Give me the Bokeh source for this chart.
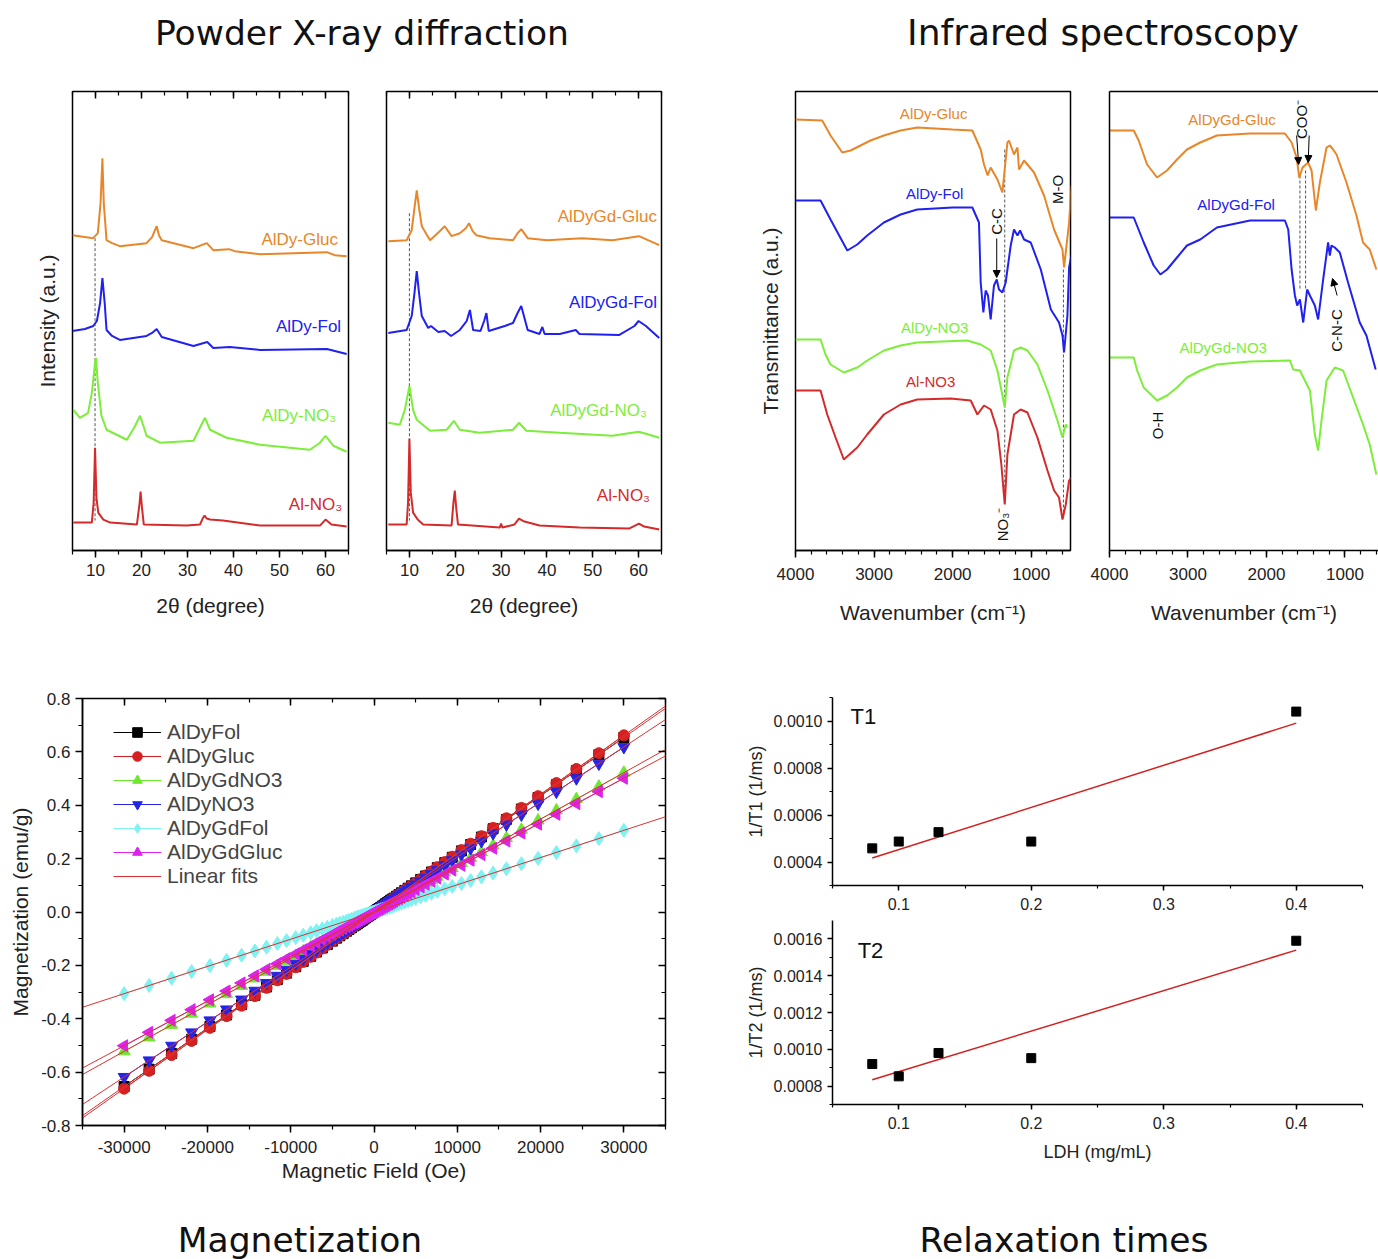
import numpy as np
from bokeh.plotting import figure
from bokeh.models import (Range1d, LinearAxis, SingleIntervalTicker, FixedTicker, PrintfTickFormatter,
                          Legend, LegendItem, Arrow, NormalHead, Div, Spacer)
from bokeh.layouts import row, column
from bokeh.embed import file_html
from bokeh.resources import INLINE
from bokeh.core.properties import value

FONT = "Liberation Sans"
TFONT = "DejaVu Sans"
ORANGE = "#E8862A"
BLUE = "#2020F0"
GREEN = "#7CEE3A"
RED = "#D42A2A"
MAGENTA = "#DD22EE"
CYAN = "#7FF2F2"
DOT = "#555555"

# ---------------- PXRD data (2theta, intensity a.u.) ----------------
xrdL_gluc_x = [5.0, 9.5, 10.5, 11.1, 11.5, 11.8, 12.4, 13.6, 15.3, 21.1, 22.3, 23.3, 23.8, 24.4, 31.3, 34.2, 35.6, 39.0, 40.3, 45.8, 60.3, 62.0, 64.6]
xrdL_gluc_y = [316, 313, 318, 348, 393, 348, 311, 308, 305, 308, 314, 325, 316, 311, 303, 308, 301, 302, 300, 297, 299, 296, 295]
xrdL_fol_x = [5.0, 7.7, 9.5, 10.3, 11.0, 11.5, 12.0, 12.4, 13.6, 15.3, 21.1, 22.3, 23.3, 24.4, 31.3, 34.3, 35.6, 39.2, 45.8, 60.3, 64.6]
xrdL_fol_y = [220, 222, 225, 230, 248, 273, 248, 221, 215, 211, 215, 218, 222, 214, 205, 209, 203, 204, 201, 202, 197]
xrdL_no3_x = [5.2, 6.6, 8.4, 9.2, 9.9, 10.1, 10.5, 11.3, 12.4, 16.8, 18.4, 19.7, 21.1, 24.0, 31.3, 32.7, 33.8, 34.9, 38.5, 45.8, 56.6, 58.8, 60.0, 61.7, 64.6]
xrdL_no3_y = [141, 133, 138, 158, 188, 193, 168, 135, 121, 111, 123, 135, 115, 108, 110, 123, 133, 121, 113, 106, 101, 108, 115, 105, 99]
xrdL_al_x = [5.2, 9.2, 9.6, 9.9, 10.2, 10.6, 11.7, 13.2, 19.0, 19.6, 19.8, 20.1, 20.5, 29.8, 32.7, 33.3, 33.7, 34.2, 34.9, 37.7, 45.8, 58.8, 60.0, 61.3, 64.6]
xrdL_al_y = [28, 28, 48, 103, 53, 38, 31, 28, 26, 48, 59, 43, 26, 25, 26, 32, 35, 32, 31, 30, 25, 25, 31, 26, 24]

xrdR_gluc_x = [5.4, 9.4, 10.5, 11.1, 11.6, 12.1, 12.7, 14.5, 16.6, 17.7, 19.2, 21.0, 22.3, 23.0, 23.8, 24.6, 27.5, 32.6, 33.6, 34.4, 35.8, 40.0, 47.7, 54.3, 60.1, 64.5]
xrdR_gluc_y = [310, 311, 321, 343, 361, 343, 325, 311, 320, 325, 315, 318, 323, 328, 320, 316, 313, 311, 318, 322, 313, 311, 313, 311, 315, 306]
xrdR_fol_x = [5.4, 9.4, 10.5, 11.1, 11.6, 12.1, 12.7, 14.1, 14.7, 16.3, 17.7, 19.1, 21.0, 22.5, 23.2, 23.9, 25.5, 26.3, 26.8, 27.3, 30.8, 32.6, 33.6, 34.4, 35.1, 35.8, 38.4, 39.0, 39.5, 42.8, 46.3, 47.1, 55.8, 59.1, 60.0, 61.6, 64.5]
xrdR_fol_y = [218, 221, 235, 258, 280, 258, 235, 223, 225, 219, 220, 215, 221, 230, 241, 221, 220, 230, 238, 220, 225, 228, 238, 245, 233, 221, 217, 224, 217, 217, 221, 217, 216, 225, 230, 225, 213]
xrdR_no3_x = [5.4, 7.9, 9.0, 10.0, 10.8, 11.6, 14.5, 18.1, 19.7, 21.0, 25.3, 32.6, 33.9, 35.5, 42.8, 54.3, 60.0, 61.6, 64.5]
xrdR_no3_y = [128, 126, 141, 165, 141, 131, 120, 121, 130, 121, 118, 121, 128, 120, 118, 115, 119, 117, 113]
xrdR_al_x = [5.4, 9.4, 9.7, 10.0, 10.3, 10.8, 11.8, 13.0, 19.2, 19.6, 19.9, 20.2, 20.6, 29.7, 30.0, 30.3, 32.9, 33.9, 35.1, 38.4, 47.1, 57.9, 60.1, 61.2, 64.5]
xrdR_al_y = [26, 26, 48, 112, 58, 38, 31, 26, 25, 48, 60, 43, 26, 23, 27, 23, 26, 32, 29, 25, 23, 22, 27, 24, 21]

xrdL_labels = ["AlDy-Gluc", "AlDy-Fol", "AlDy-NO\u2083", "Al-NO\u2083"]
xrdL_label_x = [62.7, 63.4, 62.3, 63.6]
xrdL_label_y = [312, 224, 135, 46]
xrdR_labels = ["AlDyGd-Gluc", "AlDyGd-Fol", "AlDyGd-NO\u2083", "Al-NO\u2083"]
xrdR_label_x = [64.0, 64.0, 61.8, 62.5]
xrdR_label_y = [335, 249, 140, 55]

# ---------------- IR data (wavenumber, transmittance a.u.) ----------------
irL_gluc_x = [4000, 3660, 3554, 3405, 3299, 3172, 3045, 2875, 2662, 2450, 2000, 1749, 1643, 1601, 1554, 1516, 1430, 1367, 1303, 1283, 1219, 1175, 1155, 1091, 964, 837, 709, 602, 582, 518, 488]
irL_gluc_y = [431, 430, 415, 398, 400, 405, 410, 415, 420, 423, 421, 420, 401, 386, 375, 383, 371, 358, 408, 410, 396, 403, 381, 390, 378, 355, 321, 301, 283, 328, 365]
irL_fol_x = [4000, 3681, 3554, 3341, 3214, 3087, 2875, 2662, 2450, 2000, 1749, 1665, 1643, 1609, 1580, 1550, 1516, 1474, 1439, 1410, 1367, 1325, 1261, 1219, 1175, 1142, 1091, 1006, 878, 750, 646, 602, 582, 539, 518, 488]
irL_fol_y = [350, 350, 331, 300, 306, 315, 328, 336, 341, 343, 343, 328, 268, 238, 260, 255, 231, 265, 271, 261, 258, 268, 305, 321, 315, 320, 311, 308, 281, 241, 228, 215, 198, 235, 283, 295]
irL_no3_x = [4000, 3681, 3618, 3554, 3385, 3214, 3087, 2875, 2662, 2450, 1813, 1643, 1516, 1430, 1379, 1337, 1303, 1219, 1134, 1048, 921, 793, 666, 602, 560, 539]
irL_no3_y = [211, 211, 196, 186, 178, 183, 190, 200, 205, 208, 210, 206, 200, 180, 160, 143, 173, 200, 203, 200, 186, 160, 130, 113, 126, 123]
irL_al_x = [4000, 3681, 3596, 3490, 3385, 3214, 3087, 2875, 2662, 2450, 2025, 1770, 1685, 1601, 1516, 1430, 1380, 1337, 1303, 1219, 1134, 1048, 921, 793, 709, 646, 602, 560, 518, 488]
irL_al_y = [160, 160, 136, 113, 91, 103, 116, 136, 146, 151, 152, 150, 136, 145, 141, 120, 86, 46, 96, 136, 141, 138, 113, 80, 60, 53, 31, 46, 70, 73]

irR_gluc_x = [4000, 3691, 3628, 3521, 3394, 3267, 3140, 3013, 2844, 2632, 2209, 1765, 1680, 1616, 1583, 1540, 1469, 1426, 1371, 1320, 1235, 1193, 1151, 1108, 981, 854, 770, 685, 600]
irR_gluc_y = [420, 420, 410, 386, 373, 380, 391, 401, 408, 415, 417, 417, 408, 393, 373, 383, 388, 380, 340, 368, 403, 405, 401, 396, 368, 335, 308, 301, 281]
irR_fol_x = [4000, 3691, 3564, 3437, 3352, 3267, 3140, 3013, 2844, 2632, 2209, 1765, 1723, 1680, 1638, 1609, 1574, 1532, 1482, 1447, 1384, 1342, 1278, 1215, 1193, 1172, 1130, 1066, 961, 812, 727, 609]
irR_fol_y = [333, 333, 308, 285, 276, 281, 293, 305, 311, 323, 330, 330, 321, 281, 255, 245, 251, 228, 261, 255, 245, 231, 271, 308, 295, 305, 303, 298, 268, 228, 215, 181]
irR_no3_x = [4000, 3691, 3648, 3564, 3394, 3267, 3140, 3013, 2844, 2632, 2209, 1701, 1659, 1574, 1511, 1447, 1384, 1342, 1299, 1235, 1130, 1024, 897, 770, 685, 600]
irR_no3_y = [193, 193, 180, 163, 150, 155, 163, 173, 180, 186, 189, 190, 181, 180, 170, 160, 116, 100, 130, 170, 183, 180, 153, 126, 106, 76]

irL_labels = ["AlDy-Gluc", "AlDy-Fol", "AlDy-NO3", "Al-NO3"]
irL_label_x = [2242, 2229, 2229, 2280]
irL_label_y = [437, 357, 223, 169]
irR_labels = ["AlDyGd-Gluc", "AlDyGd-Fol", "AlDyGd-NO3"]
irR_label_x = [2438, 2387, 2552]
irR_label_y = [431, 346, 203]

# ---------------- Magnetization data ----------------
field = [-30000, -27000, -24300, -21900, -19700, -17700, -15900, -14300, -12900, -11600, -10500, -9400,
         -8500, -7600, -6900, -6200, -5600, -5000, -4500, -4100, -3700, -3300, -3000, -2700, -2400, -2200,
         -2000, -1800, -1600, -1400, -1200, -1000, -800, -600, -400, -200, 0, 200, 400, 600, 800, 1000,
         1200, 1400, 1600, 1800, 2000, 2200, 2400, 2700, 3000, 3300, 3700, 4100, 4500, 5000, 5600, 6200,
         6900, 7600, 8500, 9400, 10500, 11600, 12900, 14300, 15900, 17700, 19700, 21900, 24300, 27000, 30000]
m_aldyfol = [-0.654, -0.589, -0.530, -0.477, -0.429, -0.386, -0.347, -0.312, -0.281, -0.253, -0.229, -0.205, -0.185, -0.166, -0.150, -0.135, -0.122, -0.109, -0.098, -0.089, -0.081, -0.072, -0.065, -0.059, -0.052, -0.048, -0.044, -0.039, -0.035, -0.031, -0.026, -0.022, -0.017, -0.013, -0.009, -0.004, 0.0, 0.004, 0.009, 0.013, 0.017, 0.022, 0.026, 0.031, 0.035, 0.039, 0.044, 0.048, 0.052, 0.059, 0.065, 0.072, 0.081, 0.089, 0.098, 0.109, 0.122, 0.135, 0.150, 0.166, 0.185, 0.205, 0.229, 0.253, 0.281, 0.312, 0.347, 0.386, 0.429, 0.477, 0.530, 0.589, 0.654]
m_aldygluc = [-0.662, -0.595, -0.536, -0.483, -0.434, -0.390, -0.351, -0.315, -0.284, -0.256, -0.232, -0.207, -0.187, -0.168, -0.152, -0.137, -0.123, -0.110, -0.099, -0.090, -0.082, -0.073, -0.066, -0.060, -0.053, -0.049, -0.044, -0.040, -0.035, -0.031, -0.026, -0.022, -0.018, -0.013, -0.009, -0.004, 0.0, 0.004, 0.009, 0.013, 0.018, 0.022, 0.026, 0.031, 0.035, 0.040, 0.044, 0.049, 0.053, 0.060, 0.066, 0.073, 0.082, 0.090, 0.099, 0.110, 0.123, 0.137, 0.152, 0.168, 0.187, 0.207, 0.232, 0.256, 0.284, 0.315, 0.351, 0.390, 0.434, 0.483, 0.536, 0.595, 0.662]
m_aldygdno3 = [-0.522, -0.470, -0.423, -0.381, -0.343, -0.308, -0.277, -0.249, -0.224, -0.202, -0.183, -0.164, -0.148, -0.132, -0.120, -0.108, -0.097, -0.087, -0.078, -0.071, -0.064, -0.057, -0.052, -0.047, -0.042, -0.038, -0.035, -0.031, -0.028, -0.024, -0.021, -0.017, -0.014, -0.010, -0.007, -0.003, 0.0, 0.003, 0.007, 0.010, 0.014, 0.017, 0.021, 0.024, 0.028, 0.031, 0.035, 0.038, 0.042, 0.047, 0.052, 0.057, 0.064, 0.071, 0.078, 0.087, 0.097, 0.108, 0.120, 0.132, 0.148, 0.164, 0.183, 0.202, 0.224, 0.249, 0.277, 0.308, 0.343, 0.381, 0.423, 0.470, 0.522]
m_aldyno3 = [-0.618, -0.556, -0.501, -0.451, -0.406, -0.365, -0.328, -0.295, -0.266, -0.239, -0.216, -0.194, -0.175, -0.157, -0.142, -0.128, -0.115, -0.103, -0.093, -0.084, -0.076, -0.068, -0.062, -0.056, -0.049, -0.045, -0.041, -0.037, -0.033, -0.029, -0.025, -0.021, -0.016, -0.012, -0.008, -0.004, 0.0, 0.004, 0.008, 0.012, 0.016, 0.021, 0.025, 0.029, 0.033, 0.037, 0.041, 0.045, 0.049, 0.056, 0.062, 0.068, 0.076, 0.084, 0.093, 0.103, 0.115, 0.128, 0.142, 0.157, 0.175, 0.194, 0.216, 0.239, 0.266, 0.295, 0.328, 0.365, 0.406, 0.451, 0.501, 0.556, 0.618]
m_aldygdfol = [-0.306, -0.275, -0.248, -0.223, -0.201, -0.181, -0.162, -0.146, -0.132, -0.118, -0.107, -0.096, -0.087, -0.078, -0.070, -0.063, -0.057, -0.051, -0.046, -0.042, -0.038, -0.034, -0.031, -0.028, -0.024, -0.022, -0.020, -0.018, -0.016, -0.014, -0.012, -0.010, -0.008, -0.006, -0.004, -0.002, 0.0, 0.002, 0.004, 0.006, 0.008, 0.010, 0.012, 0.014, 0.016, 0.018, 0.020, 0.022, 0.024, 0.028, 0.031, 0.034, 0.038, 0.042, 0.046, 0.051, 0.057, 0.063, 0.070, 0.078, 0.087, 0.096, 0.107, 0.118, 0.132, 0.146, 0.162, 0.181, 0.201, 0.223, 0.248, 0.275, 0.306]
m_aldygdgluc = [-0.501, -0.451, -0.406, -0.366, -0.329, -0.296, -0.266, -0.239, -0.215, -0.194, -0.175, -0.157, -0.142, -0.127, -0.115, -0.104, -0.094, -0.084, -0.075, -0.068, -0.062, -0.055, -0.050, -0.045, -0.040, -0.037, -0.033, -0.030, -0.027, -0.023, -0.020, -0.017, -0.013, -0.010, -0.007, -0.003, 0.0, 0.003, 0.007, 0.010, 0.013, 0.017, 0.020, 0.023, 0.027, 0.030, 0.033, 0.037, 0.040, 0.045, 0.050, 0.055, 0.062, 0.068, 0.075, 0.084, 0.094, 0.104, 0.115, 0.127, 0.142, 0.157, 0.175, 0.194, 0.215, 0.239, 0.266, 0.296, 0.329, 0.366, 0.406, 0.451, 0.501]
mag_names = ["AlDyFol", "AlDyGluc", "AlDyGdNO3", "AlDyNO3", "AlDyGdFol", "AlDyGdGluc"]

# ---------------- Relaxation data ----------------
ldh = [0.08, 0.10, 0.13, 0.20, 0.40]
inv_t1 = [0.000458, 0.000487, 0.000527, 0.000487, 0.001040]
inv_t2 = [0.000920, 0.000853, 0.000980, 0.000952, 0.001590]


def style_axis(ax, labels=True, tick_in=0, tick_out=7, minor_in=0, minor_out=4, font_size="17px",
               label_standoff=5, axis_label_size="21px", axis_label_standoff=10, line=True):
    ax.axis_line_width = 1.5
    ax.axis_line_color = "black" if line else None
    ax.major_tick_line_width = 1.5
    ax.minor_tick_line_width = 1.2
    ax.major_tick_in = tick_in
    ax.major_tick_out = tick_out
    ax.minor_tick_in = minor_in
    ax.minor_tick_out = minor_out
    ax.major_label_text_font = FONT
    ax.major_label_standoff = label_standoff
    if labels:
        ax.major_label_text_font_size = font_size
        ax.major_label_text_color = "#222222"
    else:
        ax.major_label_text_font_size = "1px"
        ax.major_label_text_color = None
    ax.axis_label_text_font = FONT
    ax.axis_label_text_font_style = "normal"
    ax.axis_label_text_font_size = axis_label_size
    ax.axis_label_text_color = "#222222"
    ax.axis_label_standoff = axis_label_standoff


def base_fig(width, height, xr, yr, bl, br, bt, bb, outline=True):
    p = figure(width=width, height=height, x_range=xr, y_range=yr, output_backend="svg",
               toolbar_location=None, x_axis_location=None, y_axis_location=None,
               min_border_left=bl, min_border_right=br, min_border_top=bt, min_border_bottom=bb)
    p.outline_line_color = "black" if outline else None
    p.outline_line_width = 1.5
    p.background_fill_color = "white"
    p.border_fill_color = "white"
    p.grid.grid_line_color = None
    return p


# ---------------- PXRD panels ----------------
def xrd_panel(width, bl, br, ylabel, curves, labels, lx, ly, dash_x, dash_top):
    p = base_fig(width, 578, Range1d(5, 65), Range1d(0, 460), bl, br, 29, 90)
    bottom = LinearAxis(ticker=SingleIntervalTicker(interval=10, num_minor_ticks=2), axis_label="2\u03b8 (degree)")
    style_axis(bottom, label_standoff=6, axis_label_standoff=15)
    p.add_layout(bottom, "below")
    top = LinearAxis(ticker=SingleIntervalTicker(interval=10, num_minor_ticks=2))
    style_axis(top, labels=False, tick_in=7, tick_out=0, minor_in=4, minor_out=0, label_standoff=0, line=False)
    p.add_layout(top, "above")
    if ylabel:
        left = LinearAxis(ticker=FixedTicker(ticks=[]), axis_label=ylabel)
        style_axis(left, tick_out=0, minor_out=0, label_standoff=0, axis_label_standoff=14, line=False)
        p.add_layout(left, "left")
    p.segment(x0=[dash_x], y0=[dash_top], x1=[dash_x], y1=[30], line_color=DOT, line_width=1, line_dash="3 2")
    for (xs, ys, c) in curves:
        p.line(xs, ys, line_color=c, line_width=2)
    cols = [c for (_, _, c) in curves]
    p.text(x=lx, y=ly, text=labels, text_color=cols, text_font=value(FONT), text_font_size="17px",
           text_align="right", text_baseline="middle")
    return p


figA = xrd_panel(367, 72, 19, "Intensity (a.u.)",
                 [(xrdL_gluc_x, xrdL_gluc_y, ORANGE), (xrdL_fol_x, xrdL_fol_y, BLUE),
                  (xrdL_no3_x, xrdL_no3_y, GREEN), (xrdL_al_x, xrdL_al_y, RED)],
                 xrdL_labels, xrdL_label_x, xrdL_label_y, 9.9, 313)
figB = xrd_panel(323, 19, 29, None,
                 [(xrdR_gluc_x, xrdR_gluc_y, ORANGE), (xrdR_fol_x, xrdR_fol_y, BLUE),
                  (xrdR_no3_x, xrdR_no3_y, GREEN), (xrdR_al_x, xrdR_al_y, RED)],
                 xrdR_labels, xrdR_label_x, xrdR_label_y, 10.0, 338)


# ---------------- IR panels ----------------
def ir_panel(width, bl, br, xr, ylabel, outline):
    p = base_fig(width, 578, xr, Range1d(0, 459), bl, br, 29, 90, outline=outline)
    bottom = LinearAxis(ticker=SingleIntervalTicker(interval=1000, num_minor_ticks=5),
                        axis_label="Wavenumber (cm\u207b\u00b9)")
    style_axis(bottom, label_standoff=10, axis_label_standoff=18)
    p.add_layout(bottom, "below")
    left = LinearAxis(ticker=FixedTicker(ticks=[]), axis_label=ylabel)
    style_axis(left, tick_out=0, minor_out=0, label_standoff=0, axis_label_standoff=14, line=not outline)
    p.add_layout(left, "left")
    if not outline:
        top = LinearAxis(ticker=FixedTicker(ticks=[]))
        style_axis(top, labels=False, tick_out=0, minor_out=0, label_standoff=0)
        p.add_layout(top, "above")
    return p


figC = ir_panel(400, 105, 20, Range1d(4000, 500), "Transmittance (a.u.)", True)
figC.segment(x0=[1337, 590], y0=[401, 281], x1=[1337, 590], y1=[46, 31], line_color=DOT, line_width=1, line_dash="3 2")
for xs, ys, c in [(irL_gluc_x, irL_gluc_y, ORANGE), (irL_fol_x, irL_fol_y, BLUE),
                  (irL_no3_x, irL_no3_y, GREEN), (irL_al_x, irL_al_y, RED)]:
    figC.line(xs, ys, line_color=c, line_width=2)
figC.text(x=irL_label_x, y=irL_label_y, text=irL_labels, text_color=[ORANGE, BLUE, GREEN, RED],
          text_font=value(FONT), text_font_size="15px", text_align="center", text_baseline="middle")
figC.text(x=[1439, 666, 1367], y=[329, 361, 26], text=["C-C", "M-O", "NO\u2083\u207b"], angle=np.pi / 2,
          text_font=value(FONT), text_font_size="15px", text_color="#111111", text_align="center", text_baseline="middle")
figC.add_layout(Arrow(end=NormalHead(size=7, fill_color="black", line_color="black"),
                      x_start=1439, y_start=312, x_end=1439, y_end=273, line_color="black", line_width=1))

figD = ir_panel(288, 19, 0, Range1d(4000, 573), "", False)
figD.segment(x0=[1574, 1502], y0=[375, 380], x1=[1574, 1502], y1=[262, 262], line_color=DOT, line_width=1, line_dash="3 2")
for xs, ys, c in [(irR_gluc_x, irR_gluc_y, ORANGE), (irR_fol_x, irR_fol_y, BLUE), (irR_no3_x, irR_no3_y, GREEN)]:
    figD.line(xs, ys, line_color=c, line_width=2)
figD.text(x=irR_label_x, y=irR_label_y, text=irR_labels, text_color=[ORANGE, BLUE, GREEN],
          text_font=value(FONT), text_font_size="15px", text_align="center", text_baseline="middle")
figD.text(x=[1553, 1108, 3390], y=[431, 220, 125], text=["COO\u207b", "C-N-C", "O-H"], angle=np.pi / 2,
          text_font=value(FONT), text_font_size="15px", text_color="#111111", text_align="center", text_baseline="middle")
for xs, ys, xe, ye in [(1616, 415, 1590, 386), (1456, 415, 1469, 388), (1100, 255, 1159, 272)]:
    figD.add_layout(Arrow(end=NormalHead(size=7, fill_color="black", line_color="black"),
                          x_start=xs, y_start=ys, x_end=xe, y_end=ye, line_color="black", line_width=1))

# ---------------- Magnetization panel ----------------
xr_mag = Range1d(-35000, 35000)
figM = base_fig(700, 565, xr_mag, Range1d(-0.8, 0.8), 82, 35, 58, 80)
mb = LinearAxis(ticker=SingleIntervalTicker(interval=10000, num_minor_ticks=2), axis_label="Magnetic Field (Oe)",
                formatter=PrintfTickFormatter(format="%d"))
style_axis(mb, font_size="17px", label_standoff=8, axis_label_standoff=3)
figM.add_layout(mb, "below")
ml = LinearAxis(ticker=SingleIntervalTicker(interval=0.2, num_minor_ticks=2), axis_label="Magnetization (emu/g)",
                formatter=PrintfTickFormatter(format="%.1f"))
style_axis(ml, font_size="17px", label_standoff=5, axis_label_standoff=6)
figM.add_layout(ml, "left")
mt = LinearAxis(ticker=SingleIntervalTicker(interval=10000, num_minor_ticks=2))
style_axis(mt, labels=False, tick_in=7, tick_out=0, minor_in=4, minor_out=0, label_standoff=0, line=False)
figM.add_layout(mt, "above")
mr = LinearAxis(ticker=SingleIntervalTicker(interval=0.2, num_minor_ticks=2))
style_axis(mr, labels=False, tick_in=7, tick_out=0, minor_in=4, minor_out=0, label_standoff=0, line=False)
figM.add_layout(mr, "right")

mag_series = [
    (m_aldyfol, "black", "square", 10, 0.0),
    (m_aldygluc, "#D42020", "circle", 11, 0.0),
    (m_aldygdno3, "#6EE82E", "triangle", 12, 0.0),
    (m_aldyno3, "#2424E8", "inverted_triangle", 12, 0.0),
    (m_aldygdfol, CYAN, "diamond", 14, 0.0),
    (m_aldygdgluc, MAGENTA, "triangle", 12, np.pi / 2),
]
items = []
for name, (ms, col, mk, sz, ang) in zip(mag_names, mag_series):
    lr = figM.line(field, ms, line_color=col, line_width=1)
    sr = figM.scatter(field, ms, marker=mk, size=sz, angle=ang, fill_color=col, line_color=col)
    items.append(LegendItem(label=name, renderers=[lr, sr]))
fit_r = None
for (ms, col, mk, sz, ang) in mag_series:
    k, b = np.polyfit(field, ms, 1)
    xs = [xr_mag.start, xr_mag.end]
    fit_r = figM.line(xs, [k * xs[0] + b, k * xs[1] + b], line_color="#E03030", line_width=1)
items.append(LegendItem(label="Linear fits", renderers=[fit_r]))
leg = Legend(items=items, location=(31, 237), border_line_color=None, background_fill_alpha=0,
             label_text_font=FONT, label_text_font_size="21px", label_text_line_height=1.0,
             glyph_width=48, glyph_height=24, label_height=24, spacing=0, padding=0, margin=0, label_standoff=6)
figM.add_layout(leg)


# ---------------- Relaxation panels ----------------
def relax_panel(height, bt, bb, yr, ys, label, tag, tag_x, tag_y, xlabel):
    p = base_fig(678, height, Range1d(0.05, 0.45), yr, 132, 16, bt, bb, outline=False)
    bx = LinearAxis(ticker=SingleIntervalTicker(interval=0.1, num_minor_ticks=2),
                    formatter=PrintfTickFormatter(format="%.1f"), axis_label=xlabel)
    style_axis(bx, tick_out=5, minor_out=3, font_size="16px", label_standoff=7, axis_label_size="18px",
               axis_label_standoff=10)
    p.add_layout(bx, "below")
    ly = LinearAxis(ticker=SingleIntervalTicker(interval=0.0002, num_minor_ticks=2),
                    formatter=PrintfTickFormatter(format="%.4f"), axis_label=label)
    style_axis(ly, tick_out=5, minor_out=3, font_size="16px", label_standoff=5, axis_label_size="18px",
               axis_label_standoff=5)
    p.add_layout(ly, "left")
    k, b = np.polyfit(ldh, ys, 1)
    xs = [min(ldh), max(ldh)]
    p.line(xs, [k * xs[0] + b, k * xs[1] + b], line_color="#D42020", line_width=1.5)
    p.scatter(ldh, ys, marker="square", size=9, fill_color="black", line_color="black")
    p.text(x=[tag_x], y=[tag_y], text=[tag], text_font=value(FONT), text_font_size="22px",
           text_color="#111111", text_align="left", text_baseline="middle")
    return p


figT1 = relax_panel(280, 57, 35, Range1d(0.0003, 0.0011), inv_t1, "1/T1 (1/ms)", "T1", 0.0636, 0.00102, None)
figT2 = relax_panel(285, 0, 101, Range1d(0.0007, 0.0017), inv_t2, "1/T2 (1/ms)", "T2", 0.069, 0.001536, "LDH (mg/mL)")


# ---------------- titles ----------------
def title_div(text, width, height, lh, size):
    return Div(text=text, width=width, height=height, margin=0,
               styles={"font-family": TFONT, "font-size": size, "text-align": "center",
                       "line-height": lh, "color": "#111111", "white-space": "nowrap"})


top_titles = row(title_div("Powder X-ray diffraction", 724, 62, "66px", "34.5px"),
                 Spacer(width=104, height=62, margin=0),
                 title_div("Infrared spectroscopy", 550, 62, "66px", "36px"))
bottom_titles = row(title_div("Magnetization", 600, 50, "70px", "34.5px"),
                    Spacer(width=150, height=50, margin=0),
                    title_div("Relaxation times", 628, 50, "70px", "34.5px"))

layout = column(top_titles,
                row(figA, figB, figC, figD),
                row(figM, column(figT1, figT2)),
                bottom_titles)

open("out.html", "w").write(file_html(layout, INLINE))
